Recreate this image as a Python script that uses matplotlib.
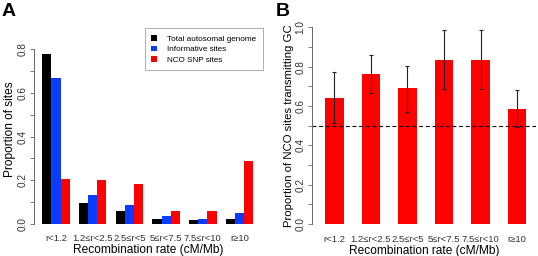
import matplotlib
matplotlib.use("Agg")
import matplotlib.pyplot as plt
import numpy as np

plt.rcParams["font.family"] = ["Liberation Sans", "DejaVu Sans"]

categories = ["r<1.2", "1.2≤r<2.5", "2.5≤r<5", "5≤r<7.5", "7.5≤r<10", "r≥10"]

# panel A
total_genome = [0.777, 0.095, 0.061, 0.024, 0.017, 0.024]
informative = [0.667, 0.131, 0.089, 0.038, 0.024, 0.049]
nco_snp = [0.205, 0.200, 0.185, 0.061, 0.061, 0.287]
series_names = ["Total autosomal genome", "Informative sites", "NCO SNP sites"]

# panel B
gc_prop = [0.642, 0.763, 0.690, 0.832, 0.832, 0.586]
gc_low = [0.512, 0.668, 0.571, 0.685, 0.685, 0.495]
gc_high = [0.775, 0.857, 0.805, 0.986, 0.986, 0.681]

W, H = 538, 256
fig = plt.figure(figsize=(W / 100, H / 100), dpi=100)


def px_axes(left, right, top, bottom):
    return fig.add_axes([left / W, (H - bottom) / H, (right - left) / W, (bottom - top) / H])


def style_axis(ax, ymax):
    for s in ["top", "right", "bottom"]:
        ax.spines[s].set_visible(False)
    ax.spines["left"].set_bounds(0, ymax)
    ax.spines["left"].set_color("#666666")
    ax.spines["left"].set_linewidth(0.7)
    ticks = np.round(np.arange(0, ymax + 0.001, 0.1), 1)
    ax.set_yticks(ticks)
    ax.set_yticklabels([f"{t:.1f}" if round(t * 10) % 2 == 0 else "" for t in ticks],
                       rotation=90, va="center")
    ax.tick_params(axis="y", length=3, width=0.6, color="#666666", labelsize=7.2,
                   labelcolor="#333333", pad=1.5)
    ax.tick_params(axis="x", length=0, labelsize=6.8, labelcolor="#333333", pad=2.5)


x = np.arange(len(categories))

# ---- A ----
axA = px_axes(34, 262, 27.4, 231)
bw = 0.25
colors = ["#000000", "#0a3cff", "#ff0000"]
for k, (vals, c, name) in enumerate(zip([total_genome, informative, nco_snp], colors, series_names)):
    axA.bar(x + (k - 1) * bw, vals, width=bw, color=c, label=name, linewidth=0)
axA.set_xlim(-0.6, 5.613)
axA.set_ylim(-0.032, 0.9)
style_axis(axA, 0.8)
axA.set_xticks(x)
axA.set_xticklabels(categories)
axA.set_ylabel("Proportion of sites", fontsize=8.6, labelpad=1.5)
axA.set_xlabel("Recombination rate (cM/Mb)", fontsize=8.6, labelpad=0.5)
leg = axA.legend(loc="upper right", bbox_to_anchor=(1.003, 0.995), fontsize=5.9,
                 frameon=True, fancybox=False, handlelength=0.7, handleheight=0.7,
                 handletextpad=1.2, borderpad=0.8, labelspacing=0.35, borderaxespad=0)
leg.get_frame().set_edgecolor("#888888")
leg.get_frame().set_linewidth(0.6)
fig.text(2 / W, 1 - 3 / H, "A", fontsize=14, fontweight="bold", va="top", ha="left")

# ---- B ----
axB = px_axes(312, 536, 19.4, 231.9)
axB.bar(x, gc_prop, width=0.5, color="#ff0000", linewidth=0)
yerr = [np.array(gc_prop) - np.array(gc_low), np.array(gc_high) - np.array(gc_prop)]
axB.errorbar(x, gc_prop, yerr=yerr, fmt="none", ecolor="#222222", elinewidth=0.8,
             capsize=1.2, capthick=0.8)
axB.axhline(0.5, color="black", linestyle=(0, (3.5, 2.5)), linewidth=0.8)
axB.set_xlim(-0.616, 5.52)
axB.set_ylim(-0.04, 1.04)
style_axis(axB, 1.0)
axB.set_xticks(x)
axB.set_xticklabels(categories)
axB.set_ylabel("Proportion of NCO sites transmitting GC", fontsize=8.2, labelpad=1.5)
axB.set_xlabel("Recombination rate (cM/Mb)", fontsize=8.6, labelpad=0.5)
fig.text(276 / W, 1 - 3 / H, "B", fontsize=14, fontweight="bold", va="top", ha="left")

fig.savefig("out.png", dpi=100)
